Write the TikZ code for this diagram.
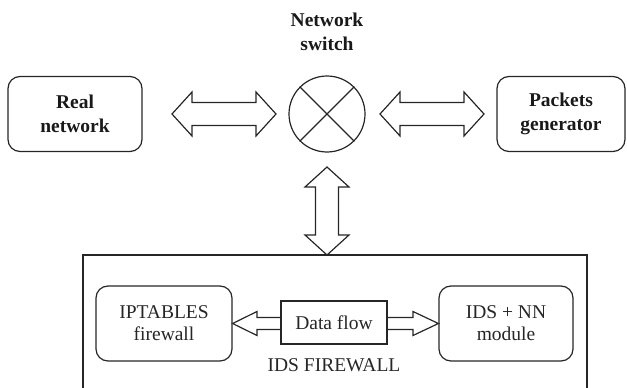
\documentclass[tikz,border=0pt]{standalone}
\usepackage{fontspec}
\setmainfont{Liberation Serif}
\usetikzlibrary{calc}
\tikzset{
  ln/.style={line width=1.2pt, draw=black!85},
  rbox/.style={ln, rounded corners=12pt, align=center, inner sep=0pt},
  bt/.style={font=\fontsize{19.5}{23.5}\selectfont\bfseries, text=black!90},
  rt/.style={font=\fontsize{19.5}{22}\selectfont, text=black!85},
  blk/.style={ln, line join=miter},
  pics/dblarrow/.style={code={
    \draw[blk] (-#1/2,0) -- (-#1/2+20,-22) -- (-#1/2+20,-11.5) -- (#1/2-20,-11.5)
      -- (#1/2-20,-22) -- (#1/2,0) -- (#1/2-20,22) -- (#1/2-20,11.5)
      -- (-#1/2+20,11.5) -- (-#1/2+20,22) -- cycle;}}
}
\begin{document}
\begin{tikzpicture}[x=1pt,y=-1pt]
\useasboundingbox (0,0) rectangle (627,388);
% top row
\node[rbox, bt, minimum width=134pt, minimum height=75pt] (rn) at (75,114) {Real\\network};
\node[rbox, bt, minimum width=128pt, minimum height=75pt] (pg) at (561,114) {Packets\\generator};
\node[ln, circle, minimum size=76pt, inner sep=0pt] (sw) at (327,114) {};
\draw[ln] (sw.north west) -- (sw.south east);
\draw[ln] (sw.north east) -- (sw.south west);
\node[bt, align=center, inner sep=0pt] (swl) at (327,32) {Network\\switch};
% block arrows
\pic at (224,114) {dblarrow=104};
\pic at (432,114) {dblarrow=104};
\pic[rotate=90] at (327,211) {dblarrow=88};
% IDS firewall container
\coordinate (bl) at (83,390);
\coordinate (br) at (587,390);
\draw[ln, line join=miter] (bl) -- (83,255) coordinate (tl) -- (587,255) coordinate (tr) -- (br);
\node[rbox, rt, minimum width=136pt, minimum height=75pt] (ipt) at (164,323.5) {IPTABLES\\firewall};
\node[rbox, rt, minimum width=134pt, minimum height=75pt] (ids) at (506,323.5) {IDS + NN\\module};
\node[ln, rt, minimum width=106pt, minimum height=43pt, inner sep=0pt] (df) at (334,322.5) {Data flow};
\node[rt, inner sep=0pt] (idsl) at (334,365.5) {IDS FIREWALL};
% data flow arrows
\draw[blk] ($(df.west)+(0,-5)$) -- (257,317.5) -- (257,311.5) -- (ipt.east) -- (257,335.5) -- (257,329.5) -- ($(df.west)+(0,7)$);
\draw[blk] ($(df.east)+(0,-5)$) -- (413,317.5) -- (413,311.5) -- (ids.west) -- (413,335.5) -- (413,329.5) -- ($(df.east)+(0,7)$);
\end{tikzpicture}
\end{document}
